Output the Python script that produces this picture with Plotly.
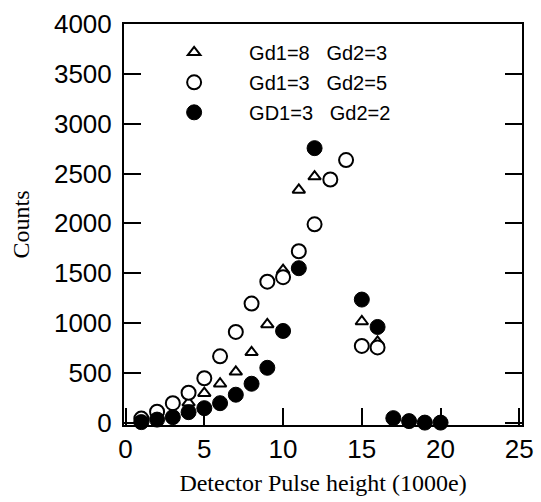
import plotly.graph_objects as go

# Gd1=8 Gd2=3 (open triangles)
tri_x = [4, 5, 6, 7, 8, 9, 10, 11, 12, 15, 16]
tri_y = [200, 295, 390, 510, 705, 985, 1530, 2335, 2470, 1015, 810]

# Gd1=3 Gd2=5 (open circles)
circ_x = [1, 2, 3, 4, 5, 6, 7, 8, 9, 10, 11, 12, 13, 14, 15, 16]
circ_y = [40, 110, 195, 300, 445, 665, 910, 1195, 1415, 1460, 1720, 1990, 2440, 2635, 770, 755]

# GD1=3 Gd2=2 (filled circles)
dot_x = [1, 2, 3, 4, 5, 6, 7, 8, 9, 10, 11, 12, 15, 16, 17, 18, 19, 20]
dot_y = [5, 30, 55, 105, 145, 195, 280, 390, 550, 920, 1550, 2755, 1235, 960, 45, 15, 0, 0]

names = ["Gd1=8\u00a0\u00a0\u00a0Gd2=3", "Gd1=3\u00a0\u00a0\u00a0Gd2=5", "GD1=3\u00a0\u00a0\u00a0Gd2=2"]

x_ticks = [0, 5, 10, 15, 20, 25]
y_ticks = [0, 500, 1000, 1500, 2000, 2500, 3000, 3500, 4000]

fig = go.Figure()
fig.add_trace(go.Scatter(x=tri_x, y=tri_y, mode="markers", name=names[0], legendgroup="a",
                         cliponaxis=False,
                         marker=dict(symbol="triangle-up", size=11, color="white",
                                     line=dict(color="black", width=2))))
fig.add_trace(go.Scatter(x=circ_x, y=circ_y, mode="markers", name=names[1], legendgroup="b",
                         cliponaxis=False,
                         marker=dict(symbol="circle", size=14, color="white",
                                     line=dict(color="black", width=2))))
fig.add_trace(go.Scatter(x=dot_x, y=dot_y, mode="markers", name=names[2], legendgroup="c",
                         cliponaxis=False,
                         marker=dict(symbol="circle", size=15, color="black",
                                     line=dict(color="black", width=1))))

tickfont = dict(family="Liberation Sans, Arial, sans-serif", size=26, color="black")
titlefont = dict(family="Liberation Serif, Times New Roman, serif", size=24, color="black")

fig.update_layout(
    width=541, height=502,
    margin=dict(l=124, r=19, t=24, b=77, autoexpand=False),
    paper_bgcolor="white", plot_bgcolor="white",
    showlegend=True,
    legend=dict(x=0.038, y=0.978, xanchor="left", yanchor="top",
                bgcolor="rgba(0,0,0,0)", itemwidth=100, tracegroupgap=1,
                font=dict(family="Liberation Sans, Arial, sans-serif", size=20, color="black")),
    xaxis=dict(range=[-0.1, 25.17], tickvals=x_ticks, ticktext=[str(v) for v in x_ticks],
               ticks="inside", ticklen=17, tickwidth=2, tickcolor="black",
               showline=True, linewidth=2, linecolor="black", mirror=True, automargin=False,
               showgrid=False, zeroline=False, tickfont=tickfont, ticklabelstandoff=0,
               title=dict(text="Detector Pulse height (1000e)", font=titlefont, standoff=11)),
    yaxis=dict(range=[-24, 4001], tickvals=y_ticks, ticktext=[str(v) for v in y_ticks],
               ticks="inside", ticklen=17, tickwidth=2, tickcolor="black",
               showline=True, linewidth=2, linecolor="black", mirror="ticks", automargin=False,
               showgrid=False, zeroline=False, tickfont=tickfont, ticklabelstandoff=5,
               title=dict(text="Counts", font=titlefont, standoff=18)),
)

fig.write_html("out.html")
